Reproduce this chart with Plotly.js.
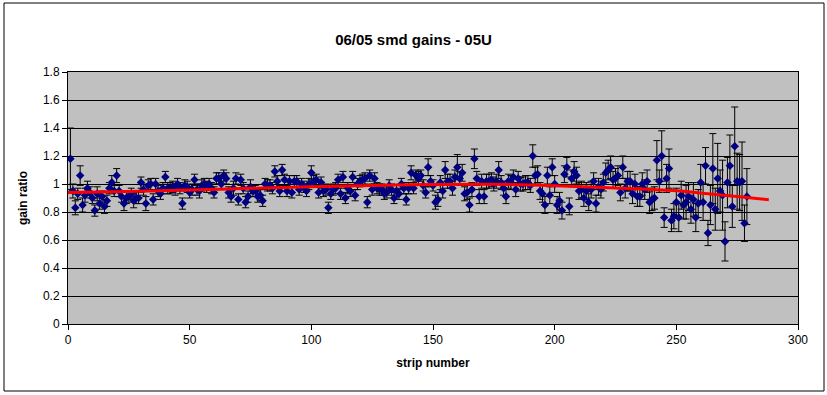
<!DOCTYPE html>
<html>
<head>
<meta charset="utf-8">
<script src="https://cdn.plot.ly/plotly-3.0.1.min.js"></script>
<style>
html,body{margin:0;padding:0;background:#fff;}
#chart{width:827px;height:395px;}
</style>
</head>
<body>
<div id="chart"></div>
<script>
// gain ratio per strip (strips 1..279)
const gainRatio = [
 1.18,0.95,0.83,0.93,1.06,0.85,0.92,0.97,0.94,0.90,
 0.81,0.93,0.86,0.91,0.84,0.88,0.97,1.01,0.95,1.06,
 0.95,0.91,0.86,0.90,0.91,0.93,0.88,0.90,0.90,1.01,
 0.96,0.86,0.99,1.00,0.89,1.00,0.95,0.93,0.97,1.05,
 0.97,0.97,0.98,0.96,1.00,0.97,0.86,0.99,0.98,0.94,
 0.96,1.03,0.96,0.95,0.99,1.00,0.98,1.00,0.97,0.94,
 1.04,1.04,1.00,1.06,1.04,0.94,0.91,0.97,1.04,0.89,
 1.03,0.97,0.87,0.91,0.98,0.95,0.95,0.91,0.92,0.88,
 1.00,0.99,0.99,0.97,1.09,1.02,0.95,1.10,1.03,0.95,
 1.02,0.94,1.02,1.02,0.96,1.00,0.98,0.95,1.00,1.08,
 1.02,1.03,0.94,1.01,0.95,0.96,0.83,0.93,0.96,0.97,
 1.03,0.93,1.05,0.90,0.97,0.95,1.05,0.92,1.00,1.02,
 1.03,1.04,0.87,1.06,0.96,1.04,0.97,0.96,0.96,0.93,
 0.94,0.99,0.96,0.90,0.95,0.93,1.00,0.97,0.89,0.97,
 1.08,0.97,1.06,1.04,1.06,0.99,0.94,1.12,1.02,0.99,
 0.87,0.89,1.01,0.95,1.10,1.02,1.02,0.97,1.05,1.12,
 1.04,1.08,0.93,0.94,0.85,0.96,1.18,1.04,0.91,1.02,
 0.91,1.02,1.02,1.03,1.00,1.02,1.10,1.01,0.97,0.91,
 1.02,1.01,1.05,0.96,1.04,1.00,1.00,1.01,1.01,0.99,
 1.20,1.06,1.07,0.95,0.93,0.85,1.06,0.92,1.12,1.00,
 0.85,0.88,0.81,1.07,1.12,0.84,1.04,1.09,1.06,0.95,
 0.96,0.90,0.95,0.87,0.96,1.02,0.86,0.98,0.96,1.01,
 1.08,1.10,1.12,1.03,1.04,1.06,0.94,1.12,0.97,1.02,
 1.02,0.93,1.00,0.91,0.91,1.00,0.96,1.02,0.87,0.89,
 0.90,1.17,1.02,1.20,0.76,1.04,1.11,0.74,0.77,0.87,
 0.76,0.92,0.85,0.87,0.91,0.82,0.89,0.76,0.86,1.01,
 0.87,1.13,0.65,0.85,1.11,0.82,1.04,0.95,0.92,0.59,
 1.01,1.13,0.84,1.27,1.02,1.01,1.02,0.72,0.91
];
// error bar half-lengths per strip
const gainError = [
 0.22,0.05,0.05,0.04,0.07,0.05,0.05,0.05,0.04,0.04,
 0.04,0.05,0.04,0.04,0.05,0.04,0.04,0.05,0.04,0.05,
 0.04,0.04,0.05,0.04,0.04,0.04,0.05,0.04,0.04,0.04,
 0.04,0.05,0.04,0.04,0.04,0.04,0.04,0.04,0.04,0.04,
 0.04,0.04,0.04,0.04,0.04,0.04,0.04,0.04,0.04,0.04,
 0.04,0.04,0.04,0.05,0.04,0.04,0.04,0.04,0.04,0.04,
 0.04,0.04,0.04,0.04,0.04,0.04,0.04,0.05,0.04,0.04,
 0.04,0.04,0.04,0.04,0.05,0.04,0.04,0.04,0.04,0.04,
 0.04,0.04,0.04,0.04,0.04,0.04,0.04,0.04,0.04,0.04,
 0.04,0.04,0.04,0.04,0.04,0.04,0.04,0.04,0.04,0.05,
 0.04,0.04,0.04,0.04,0.04,0.04,0.04,0.04,0.04,0.04,
 0.04,0.04,0.04,0.04,0.04,0.04,0.04,0.04,0.04,0.04,
 0.04,0.04,0.04,0.04,0.04,0.04,0.04,0.04,0.04,0.04,
 0.04,0.04,0.04,0.04,0.04,0.04,0.04,0.04,0.04,0.04,
 0.05,0.04,0.04,0.05,0.04,0.04,0.04,0.06,0.04,0.04,
 0.05,0.05,0.05,0.05,0.06,0.05,0.05,0.05,0.05,0.09,
 0.05,0.06,0.05,0.05,0.05,0.05,0.07,0.05,0.05,0.05,
 0.05,0.05,0.05,0.05,0.05,0.05,0.06,0.05,0.05,0.05,
 0.05,0.05,0.05,0.05,0.05,0.05,0.05,0.05,0.05,0.05,
 0.08,0.06,0.06,0.06,0.06,0.06,0.06,0.06,0.06,0.06,
 0.06,0.06,0.06,0.06,0.07,0.06,0.06,0.07,0.06,0.06,
 0.06,0.06,0.06,0.06,0.06,0.06,0.06,0.06,0.06,0.06,
 0.07,0.07,0.08,0.06,0.07,0.07,0.06,0.08,0.07,0.07,
 0.07,0.07,0.07,0.07,0.07,0.08,0.07,0.08,0.08,0.08,
 0.08,0.14,0.08,0.18,0.07,0.10,0.14,0.08,0.09,0.10,
 0.10,0.10,0.10,0.12,0.10,0.10,0.12,0.10,0.10,0.13,
 0.13,0.13,0.09,0.14,0.25,0.15,0.25,0.15,0.25,0.14,
 0.18,0.22,0.15,0.28,0.20,0.20,0.28,0.13,0.20
];
const strips = gainRatio.map((_, i) => i + 1);

// red trend line, read at several strips
const trendStrip = [0, 25, 50, 75, 100, 125, 150, 175, 200, 225, 250, 263, 276, 288];
const trendValue = [0.94, 0.947, 0.957, 0.969, 0.98, 0.99, 0.997, 0.998, 0.988, 0.972, 0.951, 0.931, 0.909, 0.888];

const xTicks = [0, 50, 100, 150, 200, 250, 300];
const yTicks = [0, 0.2, 0.4, 0.6, 0.8, 1, 1.2, 1.4, 1.6, 1.8];

const FONT = "'Liberation Sans', Arial, sans-serif";

const traces = [
  {
    type: 'scatter', mode: 'markers',
    x: strips, y: gainRatio,
    marker: {symbol: 'diamond', size: 6.5, color: '#000080', line: {width: 0}},
    error_y: {type: 'data', array: gainError, visible: true, color: '#000000', thickness: 1, width: 3.5},
    hoverinfo: 'x+y'
  },
  {
    type: 'scatter', mode: 'lines',
    x: trendStrip, y: trendValue,
    line: {color: '#FF0000', width: 3, shape: 'spline'},
    hoverinfo: 'skip'
  }
];

const layout = {
  width: 827, height: 395,
  margin: {l: 68, r: 29, t: 72, b: 71},
  paper_bgcolor: '#FFFFFF',
  plot_bgcolor: '#C0C0C0',
  showlegend: false,
  font: {family: FONT, size: 12, color: '#000'},
  title: {
    text: '06/05 smd gains - 05U',
    font: {family: FONT, size: 15, color: '#000', weight: 'bold'},
    x: 0.5, xanchor: 'center', y: 1 - 40/395, yanchor: 'middle', yref: 'container'
  },
  xaxis: {
    range: [0, 300], tickvals: xTicks, ticktext: xTicks.map(String),
    showgrid: false, zeroline: false,
    showline: true, linecolor: '#000', linewidth: 1, mirror: true,
    ticks: 'outside', ticklen: 5, tickcolor: '#000',
    tickfont: {family: FONT, size: 12},
    title: {text: 'strip number', font: {family: FONT, size: 12, weight: 'bold'}, standoff: 12}
  },
  yaxis: {
    range: [0, 1.8], tickvals: yTicks, ticktext: yTicks.map(String),
    showgrid: true, gridcolor: '#000', gridwidth: 1, zeroline: false,
    showline: true, linecolor: '#000', linewidth: 1, mirror: true,
    ticks: 'outside', ticklen: 5, tickcolor: '#000',
    tickfont: {family: FONT, size: 12},
    title: {text: 'gain ratio', font: {family: FONT, size: 12, weight: 'bold'}, standoff: 12}
  },
  shapes: [
    {type: 'rect', xref: 'paper', yref: 'paper',
     x0: -64/730, x1: 756/730, y0: -67/252, y1: 321/252,
     line: {color: '#000', width: 1}, fillcolor: 'rgba(0,0,0,0)', layer: 'below'}
  ]
};

Plotly.newPlot('chart', traces, layout, {displayModeBar: false, staticPlot: true});
</script>
</body>
</html>
